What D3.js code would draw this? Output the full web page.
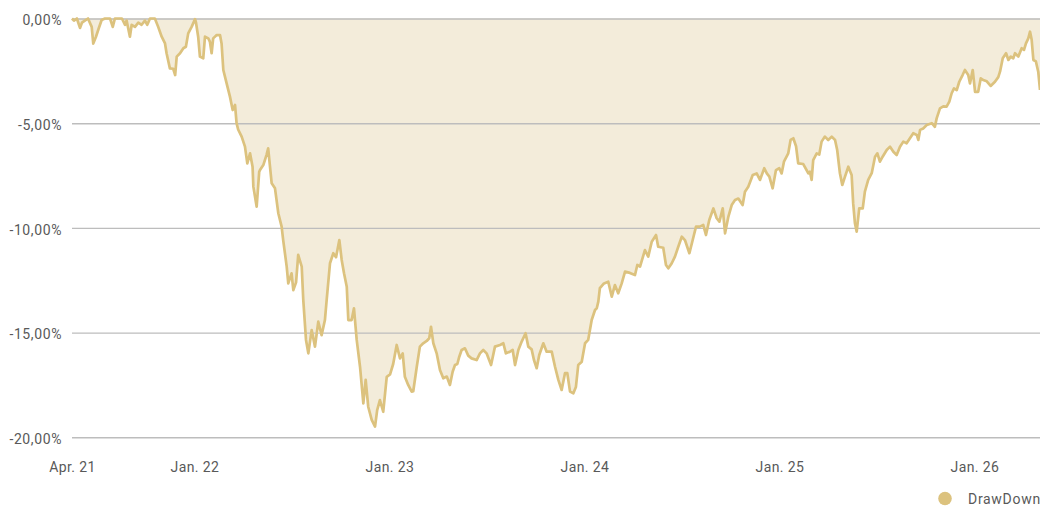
<!DOCTYPE html>
<html>
<head>
<meta charset="utf-8">
<script src="https://cdn.jsdelivr.net/npm/d3@7/dist/d3.min.js"></script>
<style>
  html, body { margin: 0; padding: 0; background: #fff; }
  svg { display: block; font-family: Roboto, "Noto Sans", sans-serif; }
</style>
</head>
<body>
<svg id="chart" width="1040" height="506"></svg>
<script>
// Dates as decimal years
const dates = [
  2021.372, 2021.382, 2021.397, 2021.413, 2021.423, 2021.438, 2021.454, 2021.473, 2021.481, 2021.495,
  2021.508, 2021.524, 2021.541, 2021.567, 2021.581, 2021.592, 2021.628, 2021.644, 2021.652, 2021.669,
  2021.678, 2021.695, 2021.712, 2021.729, 2021.746, 2021.758, 2021.772, 2021.797, 2021.814, 2021.832,
  2021.849, 2021.857, 2021.874, 2021.891, 2021.901, 2021.909, 2021.926, 2021.943, 2021.956, 2021.968,
  2021.986, 2022.003, 2022.008, 2022.019, 2022.028, 2022.045, 2022.054, 2022.071, 2022.079, 2022.088,
  2022.096, 2022.114, 2022.131, 2022.139, 2022.148, 2022.165, 2022.182, 2022.196, 2022.208, 2022.216,
  2022.224, 2022.242, 2022.259, 2022.271, 2022.285, 2022.298, 2022.302, 2022.319, 2022.332, 2022.336,
  2022.353, 2022.370, 2022.378, 2022.396, 2022.413, 2022.430, 2022.447, 2022.455, 2022.473, 2022.481,
  2022.498, 2022.507, 2022.521, 2022.532, 2022.550, 2022.558, 2022.572, 2022.584, 2022.601, 2022.618,
  2022.635, 2022.652, 2022.669, 2022.678, 2022.695, 2022.712, 2022.726, 2022.743, 2022.755, 2022.767,
  2022.781, 2022.789, 2022.806, 2022.818, 2022.832, 2022.849, 2022.866, 2022.878, 2022.891, 2022.909,
  2022.926, 2022.937, 2022.951, 2022.968, 2022.986, 2023.003, 2023.019, 2023.037, 2023.054, 2023.068,
  2023.079, 2023.096, 2023.114, 2023.122, 2023.140, 2023.156, 2023.173, 2023.191, 2023.204, 2023.213,
  2023.225, 2023.242, 2023.259, 2023.276, 2023.294, 2023.310, 2023.324, 2023.336, 2023.348, 2023.358,
  2023.370, 2023.387, 2023.404, 2023.421, 2023.447, 2023.464, 2023.481, 2023.498, 2023.521, 2023.541,
  2023.567, 2023.584, 2023.597, 2023.618, 2023.632, 2023.644, 2023.661, 2023.678, 2023.698, 2023.712,
  2023.729, 2023.741, 2023.755, 2023.768, 2023.789, 2023.806, 2023.832, 2023.849, 2023.866, 2023.883,
  2023.900, 2023.912, 2023.926, 2023.943, 2023.956, 2023.968, 2023.986, 2024.003, 2024.019, 2024.037,
  2024.054, 2024.063, 2024.071, 2024.079, 2024.100, 2024.122, 2024.140, 2024.156, 2024.173, 2024.191,
  2024.208, 2024.233, 2024.259, 2024.271, 2024.285, 2024.310, 2024.327, 2024.345, 2024.367, 2024.378,
  2024.404, 2024.418, 2024.430, 2024.447, 2024.464, 2024.481, 2024.499, 2024.516, 2024.538, 2024.555,
  2024.572, 2024.592, 2024.609, 2024.623, 2024.640, 2024.661, 2024.678, 2024.692, 2024.709, 2024.721,
  2024.738, 2024.755, 2024.772, 2024.789, 2024.811, 2024.823, 2024.840, 2024.863, 2024.883, 2024.900,
  2024.922, 2024.935, 2024.948, 2024.965, 2024.982, 2024.999, 2025.011, 2025.023, 2025.045, 2025.057,
  2025.071, 2025.085, 2025.096, 2025.122, 2025.148, 2025.156, 2025.165, 2025.173, 2025.191, 2025.204,
  2025.216, 2025.233, 2025.250, 2025.268, 2025.285, 2025.296, 2025.310, 2025.322, 2025.336, 2025.353,
  2025.370, 2025.378, 2025.387, 2025.396, 2025.409, 2025.427, 2025.438, 2025.455, 2025.473, 2025.490,
  2025.502, 2025.515, 2025.529, 2025.550, 2025.567, 2025.584, 2025.601, 2025.618, 2025.635, 2025.652,
  2025.669, 2025.686, 2025.704, 2025.712, 2025.721, 2025.737, 2025.755, 2025.781, 2025.797, 2025.806,
  2025.823, 2025.840, 2025.857, 2025.871, 2025.883, 2025.895, 2025.909, 2025.922, 2025.939, 2025.951,
  2025.968, 2025.977, 2025.991, 2026.003, 2026.019, 2026.032, 2026.045, 2026.063, 2026.083, 2026.105,
  2026.122, 2026.131, 2026.145, 2026.162, 2026.174, 2026.186, 2026.199, 2026.208, 2026.225, 2026.242,
  2026.254, 2026.264, 2026.276, 2026.285, 2026.293, 2026.302, 2026.315, 2026.327, 2026.336
];
// DrawDown in percent
const drawdown = [
  0, -0.1, 0, -0.45, -0.2, -0.1, 0, -0.4, -1.2, -0.87,
  -0.5, -0.07, 0, 0, -0.4, 0, 0, -0.3, -0.1, -0.87,
  -0.3, -0.4, -0.2, -0.3, -0.1, -0.3, 0, 0, -0.4, -0.87,
  -1.19, -1.66, -2.38, -2.4, -2.7, -1.82, -1.66, -1.42, -1.35, -0.71,
  -0.39, -0.03, -0.2, -0.87, -1.82, -1.9, -0.87, -0.95, -1.1, -1.66,
  -0.95, -0.79, -0.79, -1.19, -2.46, -3.1, -3.73, -4.37, -4.13, -5.0,
  -5.3, -5.64, -6.12, -6.92, -6.44, -7.08, -8.03, -8.99, -7.32, -7.24,
  -7.0, -6.5, -6.2, -7.87, -8.11, -9.3, -9.94, -10.58, -11.85, -12.65,
  -12.17, -12.97, -12.6, -11.29, -11.85, -13.44, -15.35, -15.99, -14.88, -15.67,
  -14.48, -15.12, -14.4, -13.44, -11.69, -11.21, -11.4, -10.58, -11.53, -12.17,
  -12.81, -14.4, -14.4, -13.84, -15.35, -16.63, -18.38, -17.26, -18.54, -19.17,
  -19.49, -18.7, -18.22, -18.78, -17.11, -17.0, -16.5, -15.59, -16.23, -16.0,
  -17.11, -17.5, -17.82, -17.8, -16.63, -15.67, -15.51, -15.4, -15.27, -14.72,
  -15.51, -15.99, -16.79, -17.18, -17.1, -17.5, -16.87, -16.55, -16.5, -16.15,
  -15.83, -15.75, -16.1, -16.23, -16.31, -15.99, -15.83, -15.99, -16.55, -15.67,
  -15.59, -15.51, -15.99, -15.91, -15.83, -16.55, -15.83, -15.43, -15.03, -15.67,
  -15.8, -16.31, -16.7, -16.07, -15.51, -15.91, -15.91, -16.63, -17.26, -17.74,
  -16.94, -16.94, -17.82, -17.9, -17.6, -16.55, -16.39, -15.51, -15.35, -14.4,
  -13.92, -13.84, -13.52, -12.88, -12.65, -12.57, -13.28, -12.73, -13.12, -12.65,
  -12.09, -12.15, -12.25, -11.77, -11.85, -11.06, -11.37, -10.66, -10.34, -10.9,
  -10.95, -11.77, -11.93, -11.7, -11.37, -10.9, -10.42, -10.6, -11.21, -10.58,
  -9.94, -9.94, -9.86, -10.34, -9.62, -9.07, -9.54, -9.7, -9.07, -10.26,
  -9.46, -8.91, -8.67, -8.6, -8.91, -8.27, -8.03, -7.47, -7.4, -7.71,
  -7.15, -7.4, -7.55, -8.11, -7.24, -7.15, -7.4, -6.84, -6.44, -5.8,
  -5.72, -6.1, -6.92, -6.95, -7.39, -7.32, -7.71, -6.76, -6.44, -6.5,
  -5.88, -5.64, -5.8, -5.64, -5.8, -6.28, -7.39, -7.95, -7.55, -7.08,
  -7.47, -8.83, -9.78, -10.18, -9.07, -9.07, -8.27, -7.71, -7.39, -6.6,
  -6.44, -6.84, -6.6, -6.28, -6.12, -6.36, -6.52, -6.12, -5.88, -5.96,
  -5.72, -5.48, -5.56, -5.8, -5.32, -5.25, -5.09, -5.0, -5.17, -4.77,
  -4.29, -4.2, -4.21, -3.97, -3.57, -3.34, -3.42, -3.02, -2.7, -2.46,
  -2.7, -3.1, -2.46, -3.5, -3.5, -2.86, -2.94, -3.0, -3.22, -3.02,
  -2.8, -2.54, -1.9, -1.66, -1.98, -1.82, -1.9, -1.66, -1.82, -1.42,
  -1.5, -1.19, -0.95, -0.63, -1.0, -1.98, -2.05, -2.54, -3.41
];
const xTickValues = [2021.372, 2022, 2023, 2024, 2025, 2026];
const xTickLabels = ["Apr. 21", "Jan. 22", "Jan. 23", "Jan. 24", "Jan. 25", "Jan. 26"];
const yTickValues = [0, -5, -10, -15, -20];
const yTickLabels = ["0,00%", "-5,00%", "-10,00%", "-15,00%", "-20,00%"];
const seriesName = "DrawDown";

const svg = d3.select("#chart");
const plotL = 72, plotR = 1040, plotT = 18.5, plotB = 437.3;

const x = d3.scaleLinear().domain([dates[0], dates[dates.length - 1]]).range([plotL, plotR]);
const y = d3.scaleLinear().domain([-20, 0]).range([plotB, plotT]);

const data = dates.map((d, i) => ({ t: d, v: drawdown[i] }));

const area = d3.area().x(d => x(d.t)).y0(y(0)).y1(d => y(d.v));
const line = d3.line().x(d => x(d.t)).y(d => y(d.v));

svg.append("path").datum(data).attr("d", area).attr("fill", "#f3ecda");

const yAxis = d3.axisLeft(y).tickValues(yTickValues)
  .tickSize(-(plotR - plotL))
  .tickFormat((d, i) => yTickLabels[i]);
const gy = svg.append("g").attr("transform", `translate(${plotL},0)`).call(yAxis);
gy.select(".domain").remove();
gy.selectAll(".tick line").attr("stroke", "#bdbdbd").attr("stroke-width", 1.4);
gy.selectAll(".tick text")
  .attr("x", -10).attr("dy", "0.45em")
  .attr("fill", "#595959").style("font-size", "14px")
  .style("letter-spacing", "0.6px")
  .style("font-family", "Roboto, sans-serif");

svg.append("path").datum(data).attr("d", line)
  .attr("fill", "none").attr("stroke", "#dcc27e").attr("stroke-width", 2.7)
  .attr("stroke-linejoin", "round");

const xAxis = d3.axisBottom(x).tickValues(xTickValues).tickSize(0)
  .tickFormat((d, i) => xTickLabels[i]);
const gx = svg.append("g").attr("transform", `translate(0,${plotB})`).call(xAxis);
gx.select(".domain").remove();
gx.selectAll(".tick text")
  .attr("y", 34.5).attr("dy", 0)
  .attr("fill", "#595959").style("font-size", "14px")
  .style("letter-spacing", "0.4px")
  .style("font-family", "Roboto, sans-serif");

const lg = svg.append("g").attr("transform", "translate(945,498.5)");
lg.append("circle").attr("r", 6.8).attr("fill", "#dcc27e");
lg.append("text").attr("x", 23).attr("y", 5).text(seriesName)
  .attr("fill", "#595959").style("font-size", "14px")
  .style("letter-spacing", "0.7px")
  .style("font-family", "Roboto, sans-serif");
</script>
</body>
</html>
